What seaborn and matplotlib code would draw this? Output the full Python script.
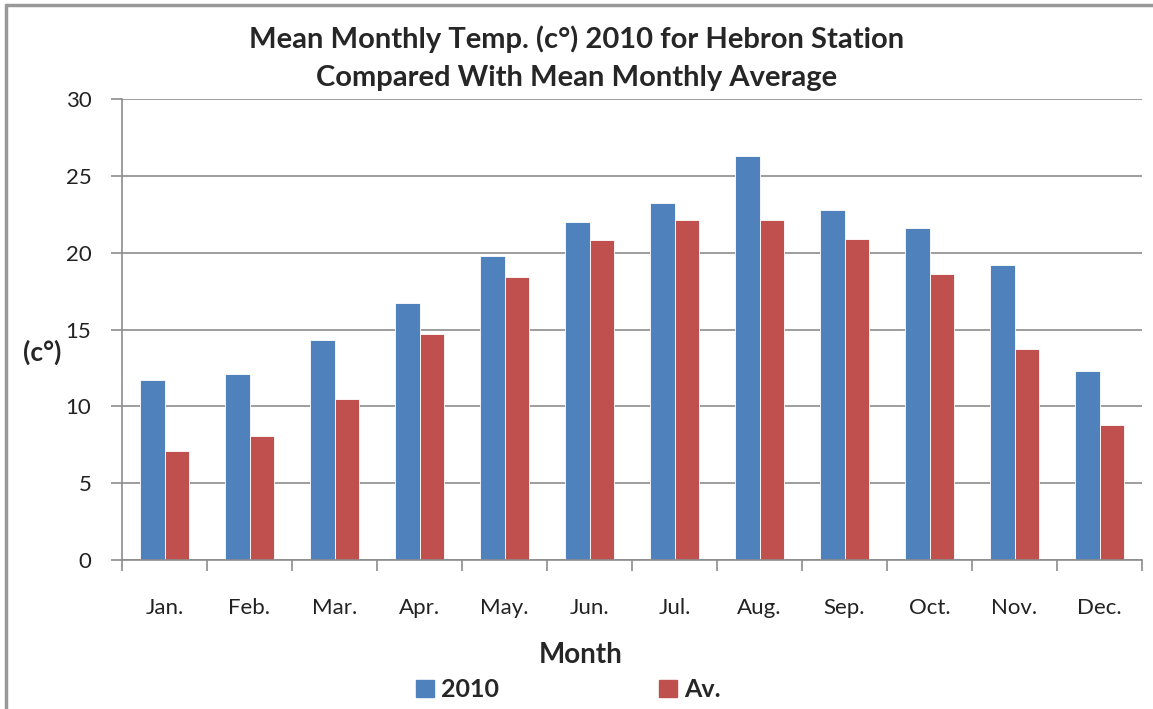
import pandas as pd
import seaborn as sns
import matplotlib.pyplot as plt
import matplotlib as mpl
from matplotlib.lines import Line2D

months = ['Jan.', 'Feb.', 'Mar.', 'Apr.', 'May.', 'Jun.',
          'Jul.', 'Aug.', 'Sep.', 'Oct.', 'Nov.', 'Dec.']
temp_2010 = [11.7, 12.1, 14.3, 16.7, 19.8, 22.0, 23.2, 26.3, 22.8, 21.6, 19.2, 12.3]
temp_avg = [7.1, 8.1, 10.5, 14.7, 18.4, 20.8, 22.1, 22.1, 20.9, 18.6, 13.7, 8.8]
series = ['2010', 'Av.']
colors = ['#4F81BD', '#C0504D']

df = pd.DataFrame({
    'Month': months * 2,
    'Temp': temp_2010 + temp_avg,
    'Series': [series[0]] * len(months) + [series[1]] * len(months),
})

sns.set_style('white')
mpl.rcParams['font.family'] = ['Lato', 'DejaVu Sans']

fig = plt.figure(figsize=(11.53, 7.09), dpi=100)
ax = fig.add_axes([122 / 1153, 1 - 560 / 709, 1020 / 1153, 461 / 709])

sns.barplot(data=df, x='Month', y='Temp', hue='Series', order=months,
            hue_order=series, palette=colors, width=0.57, ax=ax,
            edgecolor='white', linewidth=0.6, saturation=1, legend=False)

ax.set_ylim(0, 30)
ax.set_xlim(-0.5, 11.5)
ax.set_yticks(range(0, 31, 5))
ax.yaxis.grid(True, color='#8c8c8c', linewidth=1.2)
ax.set_axisbelow(True)
for s in ['top', 'right']:
    ax.spines[s].set_visible(False)
for s in ['left', 'bottom']:
    ax.spines[s].set_color('#8c8c8c')
    ax.spines[s].set_linewidth(1.2)

# ticks between categories on x, outward ticks on y
ax.set_xticks([i - 0.5 for i in range(13)], minor=True)
ax.tick_params(axis='x', which='major', bottom=False, length=0, pad=27,
               labelsize=16, colors='#222222')
ax.tick_params(axis='x', which='minor', bottom=True, length=8, width=1.2,
               color='#8c8c8c', direction='out')
ax.tick_params(axis='y', left=True, length=8, width=1.2, color='#8c8c8c', direction='out',
               labelsize=16, pad=14, labelcolor='#222222')

ax.set_xlabel('Month', fontsize=20, fontweight='bold')
ax.xaxis.set_label_coords(0.45, -0.178)
ax.set_ylabel('(c°)', fontsize=19, fontweight='bold', rotation=0, va='center')
ax.yaxis.set_label_coords(-0.078, 0.45)

fig.text(0.5, 0.945, 'Mean Monthly Temp. (c°) 2010 for Hebron Station',
         ha='center', va='center', fontsize=21, fontweight='bold')
fig.text(0.5, 0.89, 'Compared With Mean Monthly Average',
         ha='center', va='center', fontsize=21, fontweight='bold')

handles = [mpl.patches.Patch(color=c) for c in colors]
fig.legend(handles, series, loc='center', bbox_to_anchor=(0.493, 0.027), ncol=2,
           frameon=False, prop={'size': 18, 'weight': 'bold'},
           handlelength=0.7, handleheight=0.7, handletextpad=0.3, columnspacing=6.4)

# outer chart border (left and top)
fig.add_artist(Line2D([0.005, 0.005], [0, 0.993], color='#999999', linewidth=2.5))
fig.add_artist(Line2D([0.005, 1], [0.993, 0.993], color='#999999', linewidth=2.5))

fig.savefig('out.png', dpi=100)
